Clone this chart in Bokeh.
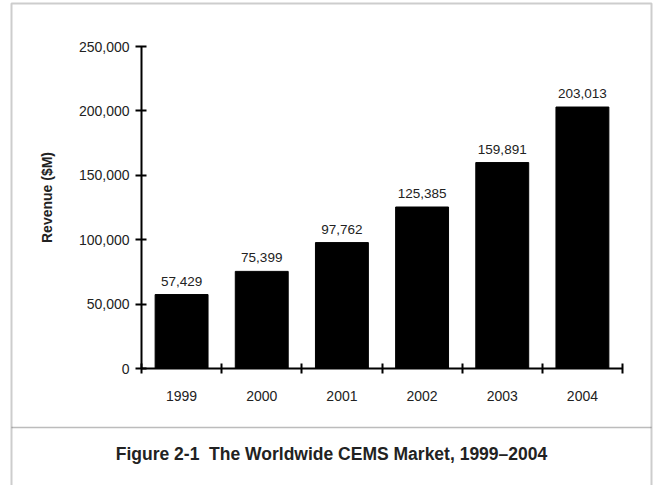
import math

from bokeh.core.properties import value
from bokeh.embed import file_html
from bokeh.models import (BoxAnnotation, ColumnDataSource, FixedTicker, Label,
                          NumeralTickFormatter, Range1d)
from bokeh.plotting import figure
from bokeh.resources import INLINE

# Worldwide CEMS market revenue ($M), 1999-2004
years = ["1999", "2000", "2001", "2002", "2003", "2004"]
revenue = [57429, 75399, 97762, 125385, 159891, 203013]
y_ticks = [0, 50000, 100000, 150000, 200000, 250000]
y_max = 250000

caption = "Figure 2-1\u00a0 The Worldwide CEMS Market, 1999\u20132004"
y_title = "Revenue ($M)"

FONT = "Liberation Sans"
TEXT = "#222222"

# Canvas size and the pixel box where the axes sit; the plot frame fills the
# whole canvas so the page border, caption and axis title can live in it too.
W, H = 656, 485
AX_LEFT, AX_RIGHT, AX_TOP, AX_BOTTOM = 141, 622, 46, 368

n = len(years)
xs = (AX_RIGHT - AX_LEFT) / n            # px per category
ys = (AX_BOTTOM - AX_TOP) / y_max        # px per $M
x_range = Range1d(-AX_LEFT / xs, n + (W - AX_RIGHT) / xs)
y_range = Range1d(-(H - AX_BOTTOM) / ys, y_max + AX_TOP / ys)

centers = [i + 0.5 for i in range(n)]
labels = [f"{v:,}" for v in revenue]
src = ColumnDataSource(dict(x=centers, top=revenue, label=labels))

p = figure(width=W, height=H, output_backend="svg", toolbar_location=None,
           x_range=x_range, y_range=y_range,
           min_border=0, min_border_left=0, min_border_right=0,
           min_border_top=0, min_border_bottom=0)
p.title.visible = False
p.background_fill_color = "white"
p.border_fill_color = "white"
p.outline_line_color = None
p.grid.visible = False

# bars
p.vbar(x="x", top="top", width=0.66, source=src,
       fill_color="black", line_color="black")

# value labels above each bar
p.text(x="x", y="top", text="label", source=src, y_offset=-9,
       text_align="center", text_baseline="bottom",
       text_font=value(FONT), text_font_size="13.5px", text_color=TEXT)

# x axis: year labels at category centres, tick marks between categories
xa = p.xaxis[0]
xa.fixed_location = 0
xa.bounds = (0, n)
xa.ticker = FixedTicker(ticks=centers, minor_ticks=list(range(n + 1)))
xa.major_label_overrides = {c: y for c, y in zip(centers, years)}
xa.major_tick_line_color = None
xa.major_tick_in = 0
xa.major_tick_out = 0
xa.minor_tick_in = 5
xa.minor_tick_out = 5
xa.minor_tick_line_width = 2
xa.minor_tick_line_color = "black"
xa.axis_line_width = 2
xa.axis_line_color = "black"
xa.major_label_standoff = 17
xa.major_label_text_font = FONT
xa.major_label_text_font_size = "14px"
xa.major_label_text_color = TEXT

# y axis
ya = p.yaxis[0]
ya.fixed_location = 0
ya.bounds = (0, y_max)
ya.ticker = FixedTicker(ticks=y_ticks)
ya.formatter = NumeralTickFormatter(format="0,0")
ya.major_tick_in = 5
ya.major_tick_out = 6
ya.major_tick_line_width = 2
ya.major_tick_line_color = "black"
ya.minor_tick_line_color = None
ya.axis_line_width = 2
ya.axis_line_color = "black"
ya.major_label_standoff = 6
ya.major_label_text_font = FONT
ya.major_label_text_font_size = "14px"
ya.major_label_text_color = TEXT

# rotated axis title (screen units: px from the canvas' bottom-left)
p.add_layout(Label(x=46, y=H - 197, x_units="screen", y_units="screen",
                   text=y_title, angle=math.pi / 2,
                   text_align="center", text_baseline="middle",
                   text_font=FONT, text_font_size="14px",
                   text_font_style="bold", text_color=TEXT))

# caption under the chart
p.add_layout(Label(x=331, y=H - 453, x_units="screen", y_units="screen",
                   text=caption, text_align="center", text_baseline="middle",
                   text_font=FONT, text_font_size="17.5px",
                   text_font_style="bold", text_color=TEXT))

# page border (open at the bottom) and the caption divider
p.add_layout(BoxAnnotation(left=11, right=651, top=H - 3, bottom=-20,
                           left_units="screen", right_units="screen",
                           top_units="screen", bottom_units="screen",
                           fill_color=None, line_color="#5a5a5a", line_width=2))
p.add_layout(BoxAnnotation(left=11, right=651, top=H - 427, bottom=H - 427,
                           left_units="screen", right_units="screen",
                           top_units="screen", bottom_units="screen",
                           fill_color=None, line_color="#222222", line_width=1.5))

open("out.html", "w").write(file_html(p, INLINE))
